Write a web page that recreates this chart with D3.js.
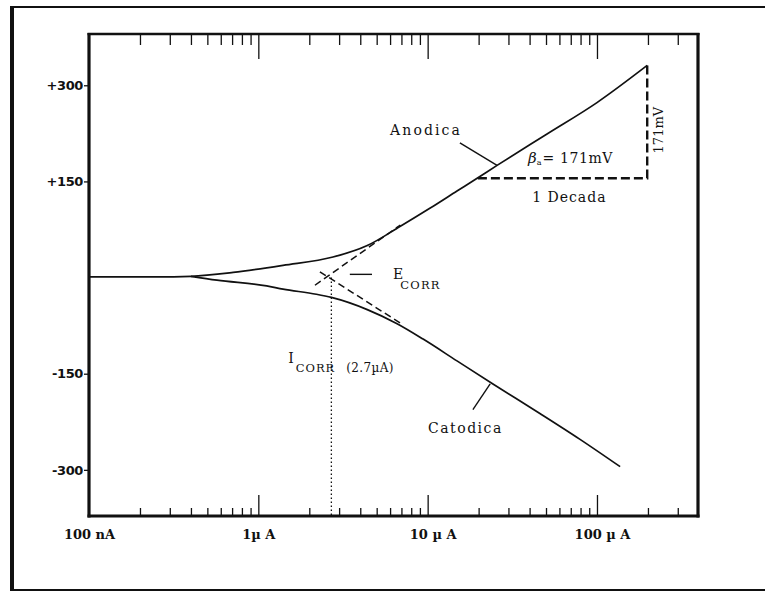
<!DOCTYPE html>
<html><head><meta charset="utf-8">
<script src="https://cdn.jsdelivr.net/npm/d3@7"></script>
<style>body{margin:0;background:#fff}svg{display:block}</style>
</head><body>
<script>
// ---- data (current in µA, potential in mV) ----
const xMajorTicks = [0.1, 1, 10, 100];
const xTickLabels = ["100 nA", "1\u00b5 A", "10 \u00b5 A", "100 \u00b5 A"];
const yTicks = [300, 150, -150, -300];
const yTickLabels = ["+300", "+150", "-150", "-300"];

const anodicCurrent   = [0.1, 0.25, 0.4, 0.71, 1.4, 2.76, 4.4, 6.9, 10.3, 14.9, 19.6, 25.7, 50.7, 100, 198];
const anodicPotential = [1, 1, 2, 8, 19, 32, 50, 80, 108, 135, 155, 175, 224, 273, 331];
const cathodicCurrent   = [0.4, 0.57, 1.12, 1.4, 2.2, 2.7, 4.4, 6.6, 9.4, 14.9, 24.3, 46, 79, 137];
const cathodicPotential = [2, -4, -13, -18, -26, -31, -50, -72, -96, -130, -166, -212, -252, -295];

const anodicTafelCurrent = [2.16, 6.9];
const anodicTafelPotential = [-12, 82];
const cathodicTafelCurrent = [2.31, 6.9];
const cathodicTafelPotential = [9, -71];

const icorr = 2.7, ecorr = 0;
const triangleCurrent = [19.8, 198];
const trianglePotential = [155, 331];

// ---- layout ----
const W = 765, H = 592;
const plot = {left: 89, right: 698, top: 34, bottom: 516};
const x = d3.scaleLog().domain([0.1, 395]).range([plot.left, plot.right]);
const y = d3.scaleLinear().domain([-372, 380]).range([plot.bottom, plot.top]);
const ink = "#111";
const serif = "'DejaVu Serif', serif";

const svg = d3.select("body").append("svg").attr("width", W).attr("height", H);
svg.append("rect").attr("width", W).attr("height", H).attr("fill", "#fff");

// outer frame
svg.append("line").attr("x1", 12).attr("x2", 12).attr("y1", 6).attr("y2", 591).attr("stroke", ink).attr("stroke-width", 4);
svg.append("line").attr("x1", 10).attr("x2", W).attr("y1", 7).attr("y2", 7).attr("stroke", ink).attr("stroke-width", 2.2);
svg.append("line").attr("x1", 10).attr("x2", W).attr("y1", 590).attr("y2", 590).attr("stroke", ink).attr("stroke-width", 2);

// minor ticks
const minor = [];
[0.1, 1, 10, 100].forEach(d => { for (let k = 2; k <= 9; k++) { const v = d * k; if (v < 395) minor.push(v); } });

function tickAxis(gen, tr, vals, size) {
  const g = svg.append("g").attr("transform", tr)
    .call(gen(x).tickValues(vals).tickSize(size).tickFormat(""));
  g.select(".domain").remove();
  g.selectAll(".tick line").attr("stroke", ink).attr("stroke-width", 1.3);
  return g;
}
tickAxis(d3.axisBottom, `translate(0,${plot.bottom})`, minor, -8);
tickAxis(d3.axisBottom, `translate(0,${plot.bottom})`, [1, 10, 100], -21);
tickAxis(d3.axisTop, `translate(0,${plot.top})`, minor, -11);
tickAxis(d3.axisTop, `translate(0,${plot.top})`, [1, 10, 100], -25);

// x labels
const xl = svg.append("g").attr("transform", `translate(0,${plot.bottom})`)
  .call(d3.axisBottom(x).tickValues(xMajorTicks).tickSize(0).tickPadding(14)
    .tickFormat((d, i) => xTickLabels[i]));
xl.select(".domain").remove();
xl.selectAll("text").attr("font-family", serif).attr("font-size", 13).attr("font-weight", "bold")
  .attr("fill", ink).attr("dx", (d, i) => i >= 2 ? 5 : 0);

// y axis
const yl = svg.append("g").attr("transform", `translate(${plot.left},0)`)
  .call(d3.axisLeft(y).tickValues(yTicks).tickSize(5).tickPadding(1)
    .tickFormat((d, i) => yTickLabels[i]));
yl.select(".domain").remove();
yl.selectAll(".tick line").attr("stroke", ink).attr("stroke-width", 1.3);
yl.selectAll("text").attr("font-family", "'DejaVu Sans', sans-serif").attr("font-size", 13)
  .attr("font-weight", "bold").attr("fill", ink).attr("letter-spacing", -0.4);

// plot frame
svg.append("line").attr("x1", plot.left).attr("x2", plot.left).attr("y1", plot.top - 1).attr("y2", plot.bottom + 1.5).attr("stroke", ink).attr("stroke-width", 3.2);
svg.append("line").attr("x1", plot.left - 1.5).attr("x2", plot.right + 1.5).attr("y1", plot.bottom).attr("y2", plot.bottom).attr("stroke", ink).attr("stroke-width", 3.2);
svg.append("line").attr("x1", plot.left - 1.5).attr("x2", plot.right + 1.5).attr("y1", plot.top).attr("y2", plot.top).attr("stroke", ink).attr("stroke-width", 2.6);
svg.append("line").attr("x1", plot.right).attr("x2", plot.right).attr("y1", plot.top - 1).attr("y2", plot.bottom + 1.5).attr("stroke", ink).attr("stroke-width", 3.2);

// curves
const line = d3.line().x(d => x(d[0])).y(d => y(d[1])).curve(d3.curveMonotoneX);
const zip = (a, b) => a.map((v, i) => [v, b[i]]);
svg.append("path").attr("d", line(zip(anodicCurrent, anodicPotential)))
  .attr("fill", "none").attr("stroke", ink).attr("stroke-width", 1.7);
svg.append("path").attr("d", line(zip(cathodicCurrent, cathodicPotential)))
  .attr("fill", "none").attr("stroke", ink).attr("stroke-width", 1.7);

// tafel extrapolations
const straight = d3.line().x(d => x(d[0])).y(d => y(d[1]));
[[anodicTafelCurrent, anodicTafelPotential], [cathodicTafelCurrent, cathodicTafelPotential]].forEach(([c, p]) => {
  svg.append("path").attr("d", straight(zip(c, p))).attr("fill", "none")
    .attr("stroke", ink).attr("stroke-width", 1.5).attr("stroke-dasharray", "7,4");
});

// Icorr dotted line
svg.append("path").attr("d", straight([[icorr, ecorr], [icorr, -372]])).attr("fill", "none")
  .attr("stroke", ink).attr("stroke-width", 1.3).attr("stroke-dasharray", "1.5,2.5");

// Tafel slope triangle
svg.append("path").attr("d", straight([[triangleCurrent[0], trianglePotential[0]], [triangleCurrent[1], trianglePotential[0]], [triangleCurrent[1], trianglePotential[1]]]))
  .attr("fill", "none").attr("stroke", ink).attr("stroke-width", 2.4).attr("stroke-dasharray", "9,4");

// annotation leaders (data coords)
const leaders = [
  [[15.5, 210], [25.7, 175]],   // Anodica
  [[3.47, 5], [4.69, 5]],       // Ecorr
  [[18.5, -206], [23.4, -166]]  // Catodica
];
leaders.forEach(l => svg.append("path").attr("d", straight(l)).attr("stroke", ink).attr("stroke-width", 1.4).attr("fill", "none"));

function label(txt, cx, cy, size, spacing) {
  return svg.append("text").attr("x", x(cx)).attr("y", y(cy)).text(txt)
    .attr("font-family", serif).attr("font-size", size).attr("fill", ink)
    .attr("letter-spacing", spacing || 0);
}
label("Anodica", 6.0, 222, 14, 2.1);
label("Catodica", 10.05, -242, 14, 1.5);
label("1 Decada", 41.4, 118, 14, 1.0);

// beta label
const bt = svg.append("text").attr("x", x(39.2)).attr("y", y(178))
  .attr("font-family", serif).attr("font-size", 14).attr("fill", ink);
bt.append("tspan").text("\u03b2").attr("font-style", "italic").attr("font-size", 15);
bt.append("tspan").text("a").attr("font-size", 8).attr("dy", 2);
bt.append("tspan").text("= 171mV").attr("dy", -2).attr("dx", 1).attr("letter-spacing", 0.6);

// vertical 171mV
svg.append("text").attr("transform", `translate(${x(229.6)},${y(230)}) rotate(-90)`)
  .attr("text-anchor", "middle").attr("dy", "0.35em").text("171mV")
  .attr("font-family", serif).attr("font-size", 13).attr("fill", ink);

// E_CORR
const et = svg.append("text").attr("x", x(6.25)).attr("y", y(-2))
  .attr("font-family", serif).attr("font-size", 14).attr("fill", ink);
et.append("tspan").text("E");
et.append("tspan").text("CORR").attr("font-size", 11.5).attr("dy", 10).attr("dx", -3).attr("letter-spacing", 1.2);

// I_CORR (2.7 µA)
const it = svg.append("text").attr("x", x(1.50)).attr("y", y(-133))
  .attr("font-family", serif).attr("font-size", 14).attr("fill", ink);
it.append("tspan").text("I");
it.append("tspan").text("CORR").attr("font-size", 11.5).attr("dy", 9).attr("dx", 2).attr("letter-spacing", 1.0);
it.append("tspan").text("(2.7\u00b5A)").attr("font-size", 12).attr("dx", 11).attr("letter-spacing", 0.4);
</script>
</body></html>
